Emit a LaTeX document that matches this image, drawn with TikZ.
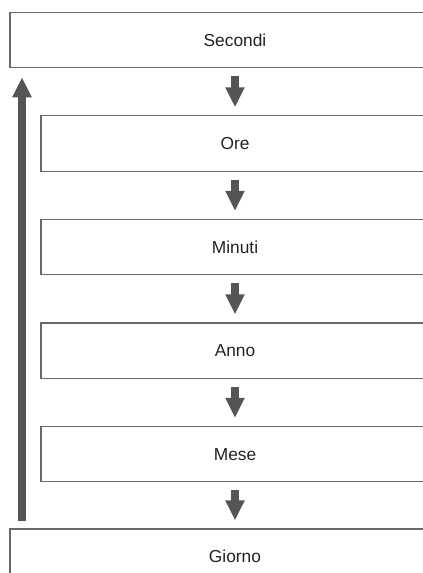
\documentclass[tikz,border=0pt]{standalone}
\usepackage{fontspec}
\setmainfont{Liberation Sans}
\usetikzlibrary{arrows.meta,positioning}
\definecolor{tmline}{RGB}{105,105,105}
\definecolor{tmarrow}{RGB}{85,85,88}
\definecolor{tmtext}{RGB}{34,34,34}
\tikzset{
  tmbox/.style={draw=tmline, line width=.9pt, minimum height=41.5pt, text=tmtext, inner sep=0pt},
  tmouter/.style={tmbox, minimum width=337.5pt},
  tminner/.style={tmbox, minimum width=291pt},
  tmarr/.style={-{Triangle[width=13.5pt,length=15pt]}, line width=6.2pt, draw=tmarrow, shorten <=6pt, shorten >=6pt}
}

\begin{document}
\begin{tikzpicture}[font=\fontsize{13pt}{15pt}\selectfont, x=.75pt, y=-.75pt, node distance=35.25pt]
  \useasboundingbox (0,0) rectangle (423,573);
  \clip (0,0) rectangle (423,573);
  \node[tmouter] (secondi) at (235,40) {Secondi};
  \node[tminner, below=of secondi] (ore) {Ore};
  \node[tminner, below=of ore] (minuti) {Minuti};
  \node[tminner, below=of minuti] (anno) {Anno};
  \node[tminner, below=of anno] (mese) {Mese};
  \node[tmouter, below=34.5pt of mese] (giorno) {Giorno};
  \foreach \a/\b in {secondi/ore,ore/minuti,minuti/anno,anno/mese,mese/giorno}
    \draw[tmarr] (\a.south) -- (\b.north);
  % return path
  \coordinate (upx) at (22,0);
  \draw[tmarr, shorten <=5.25pt, shorten >=6.75pt] (upx |- giorno.north) -- (upx |- secondi.south);
\end{tikzpicture}
\end{document}
